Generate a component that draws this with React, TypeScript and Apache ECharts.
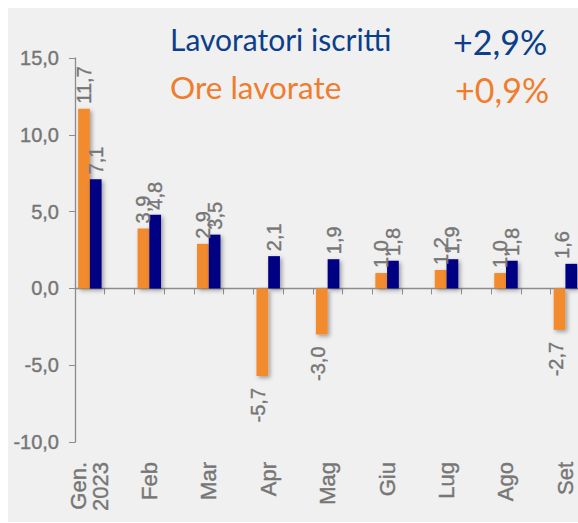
import React, { useEffect, useRef } from "react";
import * as echarts from "echarts";

const months = ["Gen.\n2023", "Feb", "Mar", "Apr", "Mag", "Giu", "Lug", "Ago", "Set"];
const oreLavorate = [11.7, 3.9, 2.9, -5.7, -3.0, 1.0, 1.2, 1.0, -2.7];
const lavoratoriIscritti = [7.1, 4.8, 3.5, 2.1, 1.9, 1.8, 1.9, 1.8, 1.6];
const yTicks = { min: -10, max: 15, interval: 5 };
const legendNames = ["Lavoratori iscritti", "Ore lavorate"];
const legendValues = ["+2,9%", "+0,9%"];

const ORANGE = "#F28A2E";
const NAVY = "#020282";
const GRAY = "#767676";
const FONT = "Liberation Sans";

const fmt = (v: number) => v.toFixed(1).replace(".", ",");

// each month followed by an empty slot (as in the original sheet layout)
const cats: string[] = [];
months.forEach((m) => {
  cats.push(m);
  cats.push("");
});

function buildSeriesData(values: number[], lastOffset?: number[]) {
  const out: any[] = [];
  values.forEach((v, i) => {
    const neg = v < 0;
    const label: any = neg
      ? { position: "bottom", align: "right", distance: 12, offset: [0, -4] }
      : { position: "top", align: "left", distance: 5 };
    if (lastOffset && i === values.length - 1) label.offset = lastOffset;
    out.push({ value: v, label });
    out.push({ value: null, label: { show: false } });
  });
  return out;
}

export default function App() {
  const ref = useRef<HTMLDivElement>(null);
  useEffect(() => {
    if (!ref.current) return;
    const chart = echarts.init(ref.current, undefined, { renderer: "svg" });
    const labelBase = {
      show: true,
      rotate: 90,
      verticalAlign: "middle",
      color: GRAY,
      fontSize: 20,
      fontFamily: FONT,
      textBorderColor: GRAY,
      textBorderWidth: 0.4,
      formatter: (p: any) => fmt(p.value),
    };
    const shadow = {
      shadowColor: "rgba(0,0,0,0.35)",
      shadowBlur: 4,
      shadowOffsetX: 2,
      shadowOffsetY: 2,
    };
    chart.setOption({
      animation: false,
      backgroundColor: "#f0f0f0",
      grid: {
        left: 67,
        top: 50,
        width: 535,
        height: 384,
        containLabel: false,
        outerBoundsMode: "none",
      },
      xAxis: [
        {
          type: "category",
          data: cats,
          boundaryGap: true,
          axisLine: { onZero: true, lineStyle: { color: "#8c8c8c", width: 1.3 } },
          axisTick: { show: true, interval: 0, length: 6, lineStyle: { color: "#8c8c8c" } },
          axisLabel: { show: false },
          splitLine: { show: false },
        },
        {
          type: "category",
          data: cats,
          position: "bottom",
          axisLine: { show: false },
          axisTick: { show: false },
          axisLabel: {
            interval: 0,
            rotate: 90,
            margin: 20,
            color: GRAY,
            fontSize: 22,
            lineHeight: 22,
            fontFamily: FONT,
            textBorderColor: GRAY,
            textBorderWidth: 0.4,
          },
        },
      ],
      yAxis: {
        type: "value",
        min: yTicks.min,
        max: yTicks.max,
        interval: yTicks.interval,
        axisLine: { show: true, lineStyle: { color: "#8c8c8c", width: 1.3 } },
        axisTick: { show: true, inside: false, length: 6, lineStyle: { color: "#8c8c8c" } },
        splitLine: { show: false },
        axisLabel: {
          color: GRAY,
          fontSize: 20,
          margin: 16,
          fontFamily: FONT,
          textBorderColor: GRAY,
          textBorderWidth: 0.4,
          formatter: (v: number) => fmt(v),
        },
      },
      series: [
        {
          name: legendNames[1],
          type: "bar",
          xAxisIndex: 0,
          data: buildSeriesData(oreLavorate),
          barGap: "0%",
          barCategoryGap: "21%",
          itemStyle: { color: ORANGE, ...shadow },
          label: labelBase,
        },
        {
          name: legendNames[0],
          type: "bar",
          xAxisIndex: 0,
          data: buildSeriesData(lavoratoriIscritti, [0, -9]),
          barGap: "0%",
          barCategoryGap: "21%",
          itemStyle: { color: NAVY, ...shadow },
          label: labelBase,
        },
      ],
      graphic: [
        {
          type: "text",
          left: 162,
          top: 16,
          style: { text: legendNames[0], fill: "#0B3F8A", fontSize: 30, fontFamily: "Lato" },
        },
        {
          type: "text",
          left: 162,
          top: 63,
          style: { text: legendNames[1], fill: "#F07D2E", fontSize: 31.5, fontFamily: "Lato" },
        },
        {
          type: "text",
          left: 445,
          top: 16,
          style: { text: legendValues[0], fill: "#0B3F8A", fontSize: 34, fontFamily: "Lato" },
        },
        {
          type: "text",
          left: 447,
          top: 64,
          style: { text: legendValues[1], fill: "#F07D2E", fontSize: 34, fontFamily: "Lato" },
        },
      ],
    });
    return () => chart.dispose();
  }, []);
  return (
    <div
      ref={ref}
      style={{ position: "fixed", left: 8, top: 8, width: 570, height: 514, background: "#f0f0f0" }}
    />
  );
}
